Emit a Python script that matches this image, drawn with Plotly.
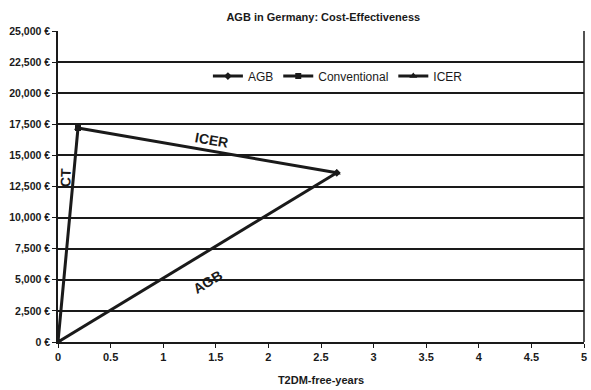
import plotly.graph_objects as go

# Cost and effect coordinates (T2DM-free years, cost in €)
agb_x = [0, 2.65]
agb_y = [0, 13600]
conv_x = [0, 0.19]
conv_y = [0, 17200]
icer_x = [0.19, 2.65]
icer_y = [17200, 13600]

y_ticks = [0, 2500, 5000, 7500, 10000, 12500, 15000, 17500, 20000, 22500, 25000]
y_tick_text = ["0 €", "2,500 €", "5,000 €", "7,500 €", "10,000 €", "12,500 €",
               "15,000 €", "17,500 €", "20,000 €", "22,500 €", "25,000 €"]
x_ticks = [0, 0.5, 1, 1.5, 2, 2.5, 3, 3.5, 4, 4.5, 5]
x_tick_text = ["0", "0.5", "1", "1.5", "2", "2.5", "3", "3.5", "4", "4.5", "5"]

FONT = "Liberation Sans, Arial, sans-serif"
INK = "#1a1a1a"

fig = go.Figure()
fig.add_trace(go.Scatter(x=agb_x, y=agb_y, name="AGB", mode="lines+markers",
                         line=dict(color=INK, width=3),
                         marker=dict(symbol="diamond", size=6, color=INK)))
fig.add_trace(go.Scatter(x=conv_x, y=conv_y, name="Conventional", mode="lines+markers",
                         line=dict(color=INK, width=3),
                         marker=dict(symbol="square", size=6, color=INK)))
fig.add_trace(go.Scatter(x=icer_x, y=icer_y, name="ICER", mode="lines+markers",
                         line=dict(color=INK, width=3),
                         marker=dict(symbol="triangle-up", size=7, color=INK)))

# Segment labels placed along each line
labels = [
    ("ICER", 1.46, 16250, 10),
    ("CT", 0.07, 13200, -88),
    ("AGB", 1.42, 4850, -31),
]
for text, lx, ly, ang in labels:
    fig.add_annotation(x=lx, y=ly, text=f"<b>{text}</b>", showarrow=False,
                       textangle=ang, font=dict(family=FONT, size=14, color=INK))

fig.update_layout(
    width=591, height=390,
    margin=dict(l=58, r=4, t=31, b=48),
    paper_bgcolor="white", plot_bgcolor="white",
    font=dict(family=FONT, color=INK),
    title=dict(text="<b>AGB in Germany: Cost-Effectiveness</b>", x=0.547, xanchor="center",
               y=0.955, yanchor="middle", font=dict(size=11, color=INK)),
    legend=dict(orientation="h", x=0.285, y=0.855, xanchor="left", yanchor="middle",
                font=dict(size=12, color=INK), bgcolor="rgba(0,0,0,0)",
                itemwidth=30, tracegroupgap=0),
    showlegend=True,
)
fig.update_xaxes(range=[0, 5], tickvals=x_ticks, ticktext=[f"<b>{t}</b>" for t in x_tick_text],
                 showgrid=False, zeroline=False, showline=True, linecolor=INK, linewidth=1.5,
                 mirror=False, ticks="outside", ticklen=4, tickcolor=INK,
                 tickfont=dict(size=11, family=FONT, color=INK),
                 title=dict(text="<b>T2DM-free-years</b>", font=dict(size=11, color=INK),
                            standoff=14))
fig.update_yaxes(range=[0, 25000], tickvals=y_ticks, ticktext=[f"<b>{t}</b>" for t in y_tick_text],
                 showgrid=True, gridcolor=INK, gridwidth=2, zeroline=False,
                 showline=True, linecolor=INK, linewidth=1.5, ticks="outside", ticklen=4,
                 tickcolor=INK, tickfont=dict(size=10.5, family=FONT, color=INK))
# right border of the plot area
fig.add_shape(type="line", xref="paper", yref="paper", x0=1, x1=1, y0=0, y1=1,
              line=dict(color=INK, width=1.5))

fig.write_html("out.html")
